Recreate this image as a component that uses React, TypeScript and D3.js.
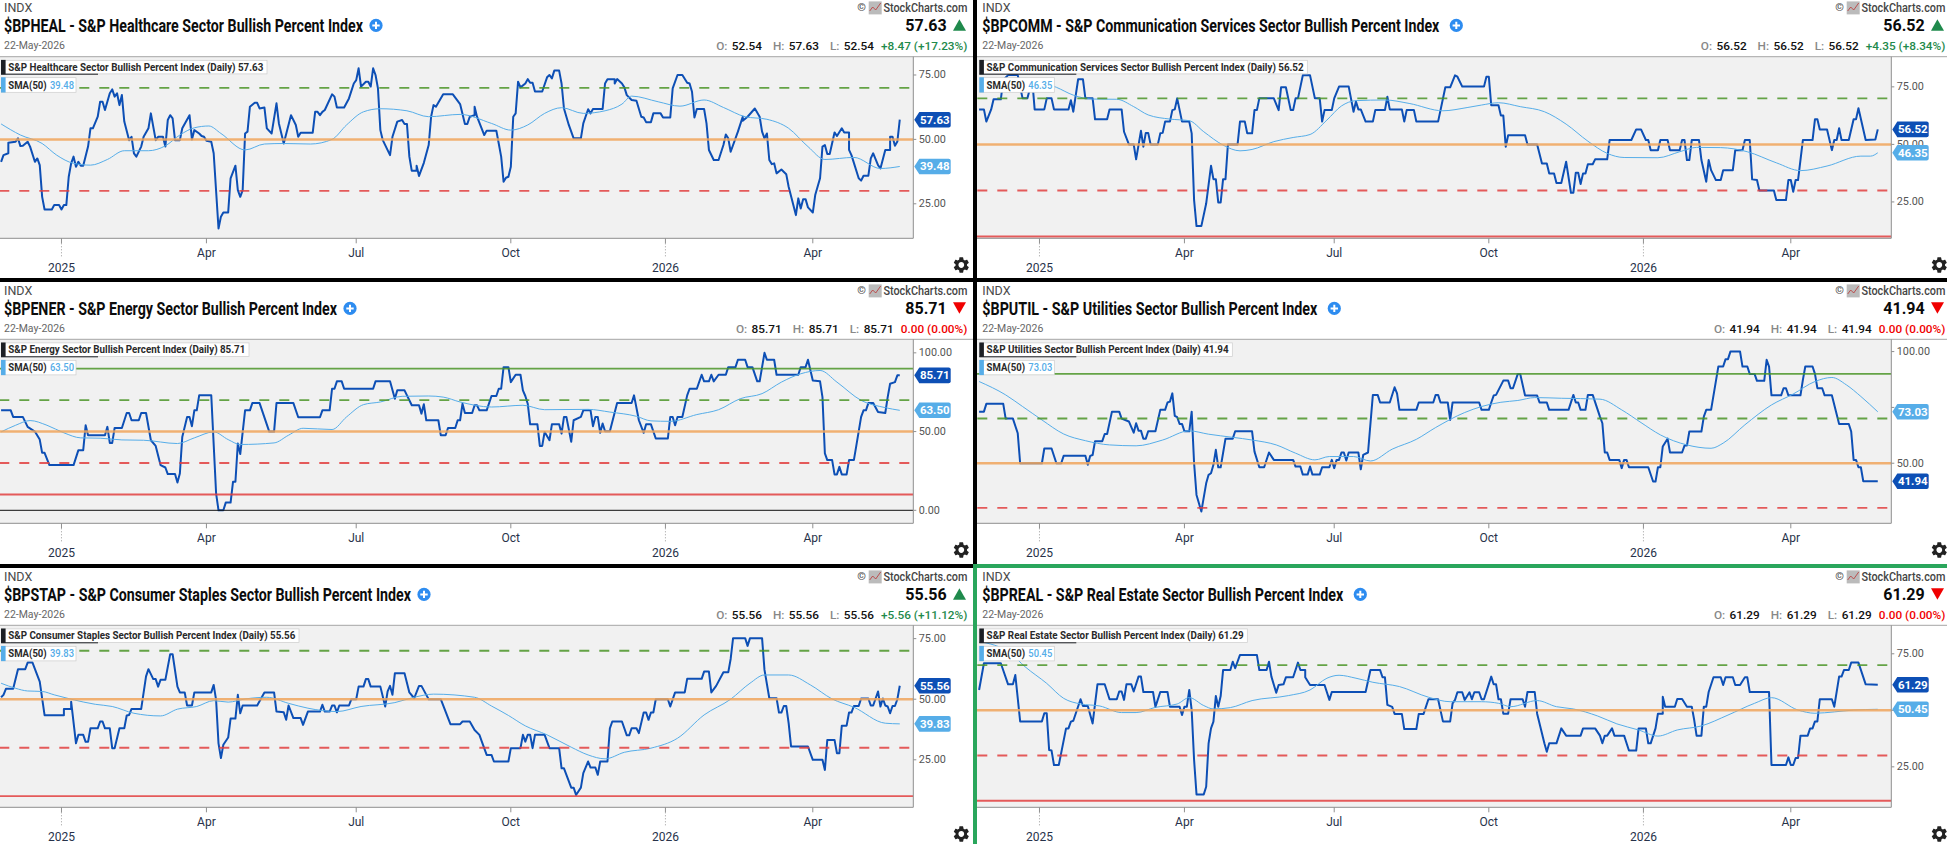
import React from 'react';
import * as d3 from 'd3';

type Pt = [number, number];

// x values are trading sessions counted from the left edge of each plot
const tickSessions = [25, 85, 147, 211, 275, 336];
const tickLabels = ['2025', 'Apr', 'Jul', 'Oct', '2026', 'Apr'];
const yearTicks = ['2025', '2026'];

const healBpi: Pt[] = [[0,41.3],[1,43.9],[3,44.6],[3,48.7],[6,49.1],[7,50.4],[8,47.4],[9,47.5],[11,49.1],[12,47.2],[14,41.3],[15,42.6],[16,40],[17,27.7],[18,22.8],[21,22.8],[22,24.5],[24,24.5],[25,22.8],[26,24.5],[27,24.5],[28,35.5],[29,40.7],[30,43.3],[31,39.4],[32,41.3],[33,39.8],[34,39.8],[36,47.2],[37,54.3],[38,54.3],[40,58.8],[41,64.6],[42,64.6],[43,61.4],[45,67.9],[46,69.4],[47,66.6],[48,67.9],[49,63.3],[50,67.2],[51,56.9],[53,49.7],[54,51],[55,44.6],[56,43.3],[58,47.2],[59,51],[61,54.3],[62,60.1],[64,49.7],[65,51],[67,51],[68,47.2],[69,57.5],[70,59.4],[71,58.2],[72,49.7],[74,49.7],[75,54.3],[78,59.4],[79,50],[80,53.6],[82,52.3],[83,51.3],[84,51],[85,49.5],[87,49.1],[88,44.6],[90,15.4],[91,20],[92,21.6],[94,21.6],[95,34.9],[97,39.8],[98,30.3],[99,27.7],[100,30.3],[101,52.3],[102,53],[103,62.7],[105,64.2],[106,64.2],[107,62],[109,62.4],[110,54.3],[112,52.3],[114,64],[115,56.2],[117,48.4],[120,59.4],[122,55.6],[123,51],[124,52.6],[129,52.6],[130,60.7],[131,60.7],[132,59.4],[133,60.7],[134,61.4],[137,67.5],[138,66.6],[139,62.4],[142,62.4],[144,65.9],[146,71.7],[147,73],[148,77.6],[149,70.5],[151,72.4],[152,72.4],[153,70.5],[154,77.6],[155,75],[156,69.8],[157,53.6],[158,49.7],[161,43.9],[162,51],[164,56.9],[166,57.5],[167,56],[168,56],[169,43.3],[170,37.8],[172,37.8],[172,39.8],[173,35.8],[175,40.9],[177,47.8],[178,58.8],[179,63.3],[180,62.7],[183,67.5],[187,67.5],[190,63.7],[192,56],[193,56],[194,58.8],[196,59.4],[196,62.7],[197,58.8],[200,51.7],[201,53.4],[205,53.4],[206,48.4],[207,43.3],[208,33.6],[209,35.1],[210,35.5],[211,39.4],[212,58.8],[213,60.1],[214,72.4],[215,70.2],[217,71.7],[218,73.4],[219,72],[220,72],[221,68.6],[224,68.6],[226,74.1],[227,75],[228,73.7],[229,76.7],[231,76.7],[232,71.7],[233,62],[235,55.6],[237,50.4],[240,50.4],[241,56.2],[243,61.7],[244,60.1],[245,61.8],[249,61.8],[250,71.7],[251,73.3],[254,73.3],[254,71.7],[255,73.4],[257,71.7],[258,70.2],[259,67.2],[261,65.3],[263,65],[265,58.8],[266,58.5],[267,56.7],[269,56.7],[270,60.1],[273,60.1],[274,58.5],[277,58.5],[278,69.8],[280,75],[282,75],[284,72],[285,71.7],[286,68.5],[287,58.5],[288,61.8],[291,61.8],[292,56.2],[293,45.9],[295,42],[297,42],[299,47.8],[300,51.9],[301,50.4],[302,45.2],[305,53],[307,58.8],[307,57.2],[309,58.8],[312,62],[314,58.8],[315,53],[316,50.4],[317,52.3],[318,42],[319,40.4],[320,40.7],[321,36.8],[323,38.3],[325,36.5],[326,31.6],[329,20.6],[330,27.1],[331,23.2],[332,26.8],[333,26.8],[334,23.6],[336,21.6],[337,28.4],[339,34.9],[340,47.2],[341,47.8],[342,44.3],[343,44.3],[345,52.7],[346,51.3],[348,54.3],[349,52.7],[351,52.7],[351,45.9],[352,43.9],[355,34.9],[356,34],[357,35.9],[359,35.9],[360,42.6],[361,44.6],[363,40],[364,38.7],[366,45.9],[368,45.9],[368,51],[369,51],[370,47.5],[371,49.16],[372,57.63]];
const healSma: Pt[] = [[0,56],[8,51.7],[17,48.4],[23,43.9],[30,40.7],[37,40],[44,42.2],[51,45.6],[61,45.6],[68,47.5],[74,51.7],[80,54.5],[86,55.2],[91,52.3],[101,45.9],[109,48.2],[117,48.4],[128,48.2],[137,50],[143,55.6],[150,60.7],[157,61.9],[168,61.1],[177,58.8],[190,59.7],[203,56.2],[211,53.6],[218,55.6],[225,60.1],[232,62.3],[241,60.1],[250,61.1],[257,63.7],[261,66.8],[272,64.6],[281,62.9],[291,65.3],[299,62.4],[308,58.8],[317,57.8],[326,54.3],[334,47.2],[341,42.2],[353,43],[364,38.7],[372,39.48]];

const commBpi: Pt[] = [[0,65.2],[2,65.2],[3,59.9],[5,65.2],[6,69.6],[9,69.6],[10,78],[12,80.1],[16,80.1],[18,70],[20,70],[22,78],[23,65.2],[27,65.2],[28,70],[30,70],[31,65.2],[37,65.2],[38,69.2],[39,64.2],[41,78.3],[43,78.3],[44,70],[47,70],[48,60.9],[53,60.9],[54,65.2],[59,65.2],[60,55.5],[62,50],[64,50],[65,43.5],[67,55.9],[68,49],[69,55],[70,55],[71,50],[74,50],[75,54.8],[76,55],[77,59.9],[79,59.9],[80,64.9],[81,65.2],[82,70],[84,59.9],[87,59.9],[88,54.8],[89,25.8],[90,14.5],[92,14.5],[94,24.3],[96,40.7],[97,34.9],[98,34.9],[99,24.8],[100,24.8],[101,34.9],[102,34.9],[103,50],[107,50],[108,59.9],[110,59.9],[111,54.8],[113,54.8],[114,64.9],[115,64.9],[116,70],[122,70],[124,64.9],[125,74.8],[127,74.8],[129,64.9],[130,64.9],[131,70],[132,70],[134,80],[137,80],[139,70],[141,70],[142,59.9],[143,64.9],[146,64.9],[147,70],[149,75.1],[153,75.1],[155,64.2],[156,68.6],[157,65.2],[158,65.2],[160,59.9],[163,59.9],[164,64.9],[168,64.9],[169,70.7],[170,65.2],[175,65.2],[176,59.9],[177,64.9],[180,64.9],[181,59.9],[190,59.9],[193,74.8],[195,74.8],[197,80],[198,79.4],[200,75.1],[209,75.1],[210,79.4],[211,79.4],[212,67],[215,67],[216,62.5],[217,62.5],[218,49],[219,54],[226,54],[227,50],[231,50],[233,41.7],[235,41.7],[236,37.4],[238,37.4],[239,33.2],[241,33.2],[243,42.5],[245,29],[246,29],[247,37.7],[248,37.7],[249,32.8],[250,37.4],[251,37.4],[252,41.4],[254,41.4],[255,43.5],[260,43.5],[261,51.9],[270,51.9],[272,56.5],[274,56.5],[276,51.9],[277,51.9],[278,47.5],[281,47.5],[282,51.9],[285,51.9],[286,47.5],[290,47.5],[291,51.9],[292,51.9],[293,43.2],[294,43.2],[295,51.9],[298,51.9],[299,43.2],[301,33.8],[302,43.2],[303,38.8],[305,34.5],[307,34.5],[308,38.8],[312,38.8],[313,47.5],[316,47.5],[317,51.9],[319,51.9],[320,34.8],[322,34.5],[323,30],[329,30],[330,25.8],[334,25.8],[335,34.5],[336,34.5],[337,29.4],[338,34.5],[339,34.5],[341,51.9],[345,51.9],[346,60.9],[347,60.9],[348,56.5],[351,56.5],[353,47.5],[354,51.9],[355,51.9],[356,57],[357,51.9],[360,51.9],[362,60.9],[363,60.9],[364,65.7],[367,51.9],[371,52.17],[372,56.52]];
const commSma: Pt[] = [[19,78.7],[32,74.8],[39,71.4],[47,69.7],[57,69.6],[64,66.4],[70,62.8],[79,61],[87,60.3],[93,55.5],[101,49.7],[108,47.2],[113,47.8],[122,51.2],[130,53],[137,54.3],[144,60.6],[150,66.7],[156,69],[168,69.3],[178,67.8],[192,64.6],[202,66],[208,67.1],[215,68.1],[224,66.4],[234,64.2],[243,58.8],[252,51.4],[260,46.1],[267,44.3],[281,44.2],[290,46.8],[297,48.7],[307,48.6],[318,46.8],[330,42],[340,38.6],[351,40.6],[365,44.9],[369,44.9],[372,46.35]];

const enerBpi: Pt[] = [[0,63.5],[4,63.5],[5,59.3],[9,59.3],[11,53],[14,50],[16,44.9],[17,36.5],[18,36.5],[20,28.7],[30,28.7],[32,38.2],[34,38.2],[35,54],[36,47.7],[43,47.7],[44,53],[45,42.8],[46,42.8],[47,52.3],[50,52.3],[52,61.8],[53,61.8],[54,57.2],[57,57.2],[58,61.8],[60,61.8],[62,44.5],[64,40.9],[66,28.7],[68,27.2],[69,23],[72,23],[73,17.7],[74,23.4],[75,46.6],[77,59.3],[78,59.3],[79,53.4],[80,63.5],[81,63.5],[82,73],[87,73],[89,10.8],[90,0],[92,0],[93,4.9],[95,4.9],[96,18.1],[97,18.1],[98,42.4],[99,35.7],[101,63.5],[103,63.5],[104,68.1],[107,68.1],[111,50],[113,50],[114,68.1],[121,68.1],[123,59.1],[132,59.1],[133,63.5],[136,63.5],[137,77.2],[138,77.2],[139,81.9],[141,81.9],[142,77.2],[154,77.2],[155,81.9],[161,81.9],[163,70.9],[164,76.2],[167,76.2],[170,66.7],[173,66.7],[174,61.4],[175,67.3],[176,57.2],[181,57.2],[182,47.7],[184,47.7],[185,52.3],[188,52.3],[189,57.2],[190,57.2],[191,67.7],[192,61.8],[195,61.8],[196,66.7],[197,66.7],[198,63.5],[201,63.5],[203,72.6],[205,72.6],[206,77.2],[207,77.2],[208,90.9],[210,90.9],[211,81.4],[213,86.1],[215,86.1],[216,76.2],[217,72.6],[218,67.7],[219,54.6],[222,54.6],[223,40.9],[224,40.9],[225,49.8],[227,44.5],[228,54.6],[231,54.6],[232,48.7],[233,59.3],[234,59.3],[236,43.5],[237,57.2],[240,59.3],[241,63.5],[244,63.5],[245,53.4],[246,59.3],[247,59.3],[248,49.2],[249,55.1],[250,50.2],[252,50.2],[255,68.1],[261,68.1],[262,73],[264,57.2],[266,49.2],[267,54.6],[269,54.6],[271,45.6],[276,45.6],[277,59.3],[278,59.3],[279,54],[280,59.3],[282,59.3],[284,73],[285,77.2],[288,77.2],[290,86.1],[291,81.9],[293,81.9],[294,86.1],[295,81.9],[297,86.1],[300,86.1],[301,90.9],[304,90.9],[305,95.6],[308,95.6],[309,90.9],[311,90.9],[313,81.9],[314,81.9],[316,100],[317,95.6],[320,95.6],[321,86.1],[330,86.1],[331,90.9],[333,90.9],[334,95.6],[336,82.5],[339,81.9],[340,71.9],[341,36.1],[342,31.9],[344,31.9],[345,22.8],[346,22.8],[347,27.6],[348,22.8],[350,22.8],[351,31.9],[353,31.9],[354,40.9],[356,59.3],[357,63.5],[358,63.5],[359,68.1],[361,68.1],[363,62.4],[366,61.8],[367,71.9],[368,80.4],[370,81.4],[371,85.71],[372,85.71]];
const enerSma: Pt[] = [[0,49.8],[6,54],[12,57],[19,54],[26,49.2],[33,46],[41,45.8],[50,44.7],[59,44.5],[73,42.4],[80,46],[88,49.8],[94,44.9],[99,41.8],[113,42.8],[119,47.7],[125,52.1],[137,51.3],[143,59.3],[150,67.1],[157,68.8],[166,72.4],[177,72.6],[183,71.9],[190,68.8],[203,65.6],[216,66.7],[225,63.9],[243,64.1],[252,62.4],[263,59.7],[269,56.8],[277,56.5],[288,60.8],[297,63.9],[306,70.9],[315,74.1],[323,81.4],[331,86.7],[339,88.8],[346,81.4],[356,69.8],[366,65.2],[372,63.5]];

const utilBpi: Pt[] = [[0,73.1],[2,73.1],[3,76.6],[10,76.6],[11,70],[14,70],[16,63.4],[17,50],[26,50],[27,56.6],[30,56.6],[32,50],[34,50],[35,53.3],[44,53.3],[45,49.3],[46,53.3],[47,53.7],[48,59.9],[51,59.9],[52,63.1],[53,63.1],[55,73.1],[58,73.1],[59,70],[62,68.7],[64,63.7],[65,67.9],[66,64.6],[67,64.6],[68,61],[69,61],[70,64.3],[73,64.3],[75,73.9],[77,73.9],[78,77.2],[79,77.6],[80,81.3],[81,71.2],[82,70.6],[83,67.6],[84,67.6],[85,64.3],[87,64.3],[88,73.1],[89,50],[90,35.8],[92,28.4],[94,41],[95,44.8],[96,45.5],[97,49.3],[98,56],[99,48.2],[100,48.2],[102,61],[105,61],[106,64.3],[113,64.3],[114,55.2],[116,48.2],[118,48.2],[120,54.8],[122,51.5],[130,51.5],[131,48.5],[133,48.5],[134,44.9],[136,44.9],[137,48.5],[138,44.9],[141,44.9],[142,48.2],[145,48.2],[146,51.5],[147,47.8],[148,51.5],[149,51.5],[150,54.8],[151,54.8],[152,51.2],[153,54.8],[157,54.8],[158,47.3],[159,53.7],[161,54.8],[163,80.6],[165,80.6],[166,77.2],[170,77.2],[172,84],[173,81.3],[174,73.9],[181,73.9],[182,77.2],[188,77.2],[189,80.6],[190,80.6],[191,77.2],[194,77.2],[195,69.4],[196,77.2],[207,77.2],[208,73.9],[211,73.9],[212,77.2],[213,80.3],[214,80.6],[217,87],[219,87],[220,83.6],[221,83.6],[223,90],[224,90],[226,80.3],[231,80.3],[232,77.2],[235,77.2],[236,73.9],[244,73.9],[246,80.6],[247,77.2],[248,77.2],[249,73.9],[251,73.9],[252,80.6],[254,80.6],[257,70.9],[258,67.9],[259,54.8],[260,54.8],[261,51.5],[265,51.5],[266,47.8],[267,51.5],[268,51.5],[269,48.2],[277,48.2],[279,41.8],[280,41.8],[281,48.2],[282,48.2],[283,57.5],[285,61],[286,54.8],[291,54.8],[292,57.9],[293,57.9],[294,64.2],[299,64.2],[300,70.9],[301,73.9],[303,73.9],[306,93.3],[308,93.3],[309,96.6],[310,96.6],[311,100],[315,100],[316,93.3],[318,93.3],[319,90],[321,90],[322,86.9],[325,86.9],[326,96.3],[327,93.3],[328,80.4],[332,80.4],[333,83.6],[334,83.6],[335,80.4],[340,80.4],[341,87.3],[342,93.3],[345,93.3],[346,90],[347,83.6],[349,83.6],[350,80.4],[353,80.4],[356,67.6],[360,67.6],[361,64.2],[362,51.5],[363,51.5],[364,48.2],[365,48.2],[366,41.94],[372,41.94]];
const utilSma: Pt[] = [[0,86.6],[11,80.6],[18,75.4],[26,69.4],[35,63.1],[44,60.1],[54,58.2],[65,57.8],[76,60.4],[87,64.5],[95,63],[105,61.6],[113,60.4],[123,58.2],[131,54.5],[139,51.5],[145,53],[155,53],[162,51],[171,56.3],[181,60.7],[189,66],[201,72.7],[208,75.4],[216,77.3],[223,78.1],[230,79.4],[241,79.1],[257,78.7],[266,73.9],[274,68.2],[282,62.7],[293,58.2],[303,56.7],[308,59],[317,67.2],[328,76.1],[337,81],[346,86.6],[353,88.4],[359,85.1],[365,79.9],[372,73.03]];

const stapBpi: Pt[] = [[0,50.8],[1,51.8],[2,54.3],[5,54.3],[7,62.4],[10,62.4],[11,65.1],[13,65.1],[16,57.3],[18,43.4],[26,43.4],[26,46],[29,46],[29,49],[31,31.8],[32,35.3],[34,35.3],[35,32.4],[36,32.4],[37,38],[40,38],[41,40.8],[42,40.8],[43,38],[45,38],[46,29.8],[47,29.8],[49,38],[51,38],[52,43.3],[53,43.5],[54,46],[58,46],[60,59.4],[61,62.4],[63,58.3],[64,58.3],[65,55.2],[66,58],[68,58],[70,68.6],[71,68.6],[73,55.2],[74,52.8],[76,52.8],[77,47.4],[79,47.4],[80,52.8],[87,52.8],[88,55.9],[89,49.7],[90,31.8],[91,25.7],[92,31.2],[94,34.2],[95,42],[97,42],[98,51.8],[99,44.2],[100,47.4],[106,47.4],[109,52.8],[113,52.8],[114,44.9],[117,44.6],[118,41.5],[119,47.4],[121,42.2],[124,42.2],[125,39.4],[127,44.9],[132,44.9],[133,47.7],[134,44.9],[136,44.9],[137,47.4],[138,47.4],[139,44.6],[140,47.4],[144,47.4],[145,50],[147,50],[148,55.2],[150,55.2],[151,58.3],[152,58.3],[153,55.2],[157,55.2],[159,47],[160,53.2],[161,55.5],[162,51.8],[163,60.7],[167,60.7],[169,52.8],[171,50.4],[173,55.5],[174,55.5],[176,51.8],[177,50],[182,50],[186,39.7],[190,39.7],[191,40.8],[194,40.8],[196,37.3],[198,35.3],[199,32.5],[201,27],[203,27],[204,24.3],[210,24.3],[211,29.8],[215,29.8],[216,35.3],[217,32.5],[218,35.3],[219,35.3],[220,29.8],[221,35.3],[225,35.3],[227,29.8],[231,29.8],[232,21.5],[233,21.5],[236,13.5],[237,13.5],[238,10.5],[240,13.5],[241,19.5],[243,24.3],[244,21.8],[246,21.8],[247,18.8],[248,24.3],[251,24.3],[252,38],[253,40.8],[257,40.8],[259,35.1],[260,35.1],[261,38],[263,38],[264,36],[266,44.5],[267,44.5],[268,41.5],[269,44.5],[270,44.5],[271,50],[276,50],[277,47],[279,52.8],[283,52.8],[284,58.4],[290,58.4],[291,61.4],[293,61.4],[294,52.8],[296,55.5],[299,61.1],[301,61.1],[302,66.6],[303,75.2],[308,75.2],[309,72],[310,75.2],[315,75.2],[316,62.1],[318,50.4],[321,50.4],[322,44.5],[323,44.5],[324,47.2],[325,47.2],[326,40.1],[327,30.5],[334,30.5],[336,25],[340,25],[341,20.8],[342,33.2],[345,33.2],[346,27.7],[347,27.7],[348,39.1],[350,39.1],[351,44.5],[352,44.5],[353,47.2],[355,47.2],[356,50.3],[359,50.3],[360,47.4],[361,47.4],[363,53.2],[364,47],[365,50.3],[366,47.4],[367,47],[368,44.2],[369,47.2],[370,47.2],[371,50],[372,55.56]];
const stapSma: Pt[] = [[0,56.6],[6,54.5],[11,53.4],[17,53.2],[22,51.8],[29,50],[39,47.9],[46,47],[55,44.2],[66,43.1],[73,45.9],[81,47],[88,49.4],[94,48.8],[101,50.1],[110,50.8],[119,48.3],[127,46.3],[139,44.9],[149,47],[163,48.6],[171,50.8],[179,52.1],[196,50.8],[203,47.2],[210,43.3],[217,39],[226,35.3],[236,30.2],[243,27],[250,25.4],[258,28.1],[269,29.8],[280,33.9],[291,43.5],[302,50],[310,56.6],[316,60],[326,60],[335,55.9],[344,50.1],[353,46.7],[366,40.1],[372,39.83]];

const realBpi: Pt[] = [[0,59],[2,70.8],[9,70.8],[12,61.5],[14,61.5],[15,65.6],[17,45.1],[26,45.1],[27,48.7],[28,48.7],[29,32.4],[30,32.2],[31,25.8],[33,25.8],[36,42],[37,42],[38,45],[39,45.4],[42,54.9],[43,51.9],[45,51.9],[47,44.2],[49,61.5],[52,61.5],[54,54.9],[57,54.9],[58,58.3],[59,58.3],[60,54.6],[61,61.5],[63,61.5],[64,58.3],[66,64.9],[67,64.9],[68,58.1],[72,58.1],[73,51.5],[75,58.1],[78,58.1],[79,51.6],[83,51.6],[84,47.9],[85,51.6],[86,51.6],[87,59],[88,50.1],[89,28],[90,12.8],[93,12.8],[94,16.2],[95,35.4],[96,42],[97,45],[98,56.3],[99,51.6],[100,56.3],[101,67.8],[104,67.8],[105,71.5],[106,68.6],[108,74.5],[115,74.5],[116,67.8],[119,67.8],[120,71.5],[121,64.9],[123,57.8],[124,61.2],[126,61.5],[127,64.6],[130,64.6],[132,71.1],[133,67.8],[135,67.8],[135,64.6],[137,61.2],[143,61.2],[145,54.6],[146,58.1],[160,58.1],[162,67.8],[166,67.8],[167,64.6],[168,64.6],[169,52.4],[171,51.5],[172,48.4],[175,48.4],[176,41.7],[181,41.7],[182,48.4],[184,48.4],[186,54.9],[190,54.9],[192,45.1],[195,45.1],[196,53.1],[197,54.6],[198,58],[200,58],[201,54.6],[203,58],[204,54.9],[205,58],[207,58],[208,54.9],[209,54.9],[212,64.9],[213,61.5],[214,61.5],[215,54.9],[216,54.9],[217,48.5],[219,48.5],[220,54.9],[225,54.9],[226,51.6],[227,58.1],[230,58.1],[231,48.5],[234,35.4],[235,31.7],[236,35.4],[239,35.4],[241,42],[243,38.8],[249,38.8],[250,42],[255,42],[257,38.8],[258,35.4],[259,38.8],[260,38.8],[262,42],[263,38.8],[267,38.8],[269,32.2],[272,32.2],[273,42],[276,42],[277,35.4],[278,35.4],[280,42],[281,48.5],[283,48.5],[283,56],[284,51.6],[288,51.6],[289,55],[291,55],[293,51.6],[295,51.6],[296,45.8],[297,38.8],[299,38.8],[300,51.6],[301,51.6],[302,58.1],[304,64.6],[307,64.6],[308,61.2],[309,64.6],[312,64.6],[313,61.2],[315,61.2],[317,64.6],[318,64.6],[319,58.1],[327,58.1],[328,25.8],[334,25.8],[335,29.2],[336,25.8],[337,25.8],[338,28.9],[339,28.9],[340,38.8],[343,38.8],[344,42],[345,42],[346,45.1],[347,45.1],[348,54.9],[353,54.9],[354,51.6],[356,64.9],[357,64.9],[358,67.8],[360,67.8],[361,71.1],[364,71.1],[367,61.5],[372,61.29]];
const realSma: Pt[] = [[0,80.4],[13,75.2],[19,69.3],[28,61.9],[35,55.3],[42,52.8],[50,51.9],[59,49],[65,49],[73,51.3],[82,52.8],[87,55.6],[93,52.1],[97,50.6],[104,51.2],[113,54.3],[128,56.5],[137,59],[144,64.2],[149,65.5],[156,64.2],[163,62.4],[174,60.5],[186,55.8],[195,53.8],[202,53.8],[208,53.8],[215,53.1],[220,51.6],[231,54.3],[239,51.6],[246,50.6],[256,47.5],[264,44],[273,41.3],[281,38.6],[289,41.3],[299,43.1],[310,47.9],[321,53.1],[328,55.6],[339,50.1],[346,48.7],[354,49.3],[362,50.1],[372,50.45]];

const blue = '#0d4fb5';
const skyBlue = '#56ade8';
const green = '#4b9528';
const red = '#e2403f';
const orange = '#f0a45c';
const gainColor = '#1f8a4c';
const lossColor = '#f00000';

const gearPath = 'M19.14 12.94c.04-.3.06-.61.06-.94 0-.32-.02-.64-.07-.94l2.03-1.58a.49.49 0 0 0 .12-.61l-1.92-3.32a.488.488 0 0 0-.59-.22l-2.39.96c-.5-.38-1.03-.7-1.62-.94l-.36-2.54a.484.484 0 0 0-.48-.41h-3.84c-.24 0-.43.17-.47.41l-.36 2.54c-.59.24-1.13.57-1.62.94l-2.39-.96c-.22-.08-.47 0-.59.22L2.74 8.87c-.12.21-.08.47.12.61l2.03 1.58c-.05.3-.09.63-.09.94s.02.64.07.94l-2.03 1.58a.49.49 0 0 0-.12.61l1.92 3.32c.12.22.37.29.59.22l2.39-.96c.5.38 1.03.7 1.62.94l.36 2.54c.05.24.24.41.48.41h3.84c.24 0 .44-.17.47-.41l.36-2.54c.59-.24 1.13-.56 1.62-.94l2.39.96c.22.08.47 0 .59-.22l1.92-3.32c.12-.22.07-.47-.12-.61l-2.01-1.58zM12 15.6c-1.98 0-3.6-1.62-3.6-3.6s1.62-3.6 3.6-3.6 3.6 1.62 3.6 3.6-1.62 3.6-3.6 3.6z';

interface Level { value: number; color: string; dashed?: boolean; width?: number }

interface PanelConfig {
  id: string;
  symbol: string;
  name: string;
  col: number;
  row: number;
  domain: [number, number];
  yTicks: number[];
  levels: Level[];
  bpi: Pt[];
  sma: Pt[];
  ohlc: string[];
  change: string;
  up: boolean;
  last: number;
  smaLast: number;
  titleWidth: number;
  legendWidth: number;
}

const base: Level[] = [
  { value: 70, color: green, dashed: true },
  { value: 50, color: orange, width: 2.5 },
  { value: 30, color: red, dashed: true },
];
const hi90: Level = { value: 90, color: green };
const lo10: Level = { value: 10, color: red };

const panels: PanelConfig[] = [
  { id: 'heal', symbol: '$BPHEAL', name: 'S&P Healthcare Sector Bullish Percent Index', col: 0, row: 0, domain: [11.6, 82.1], yTicks: [25, 50, 75], levels: base, bpi: healBpi, sma: healSma, ohlc: ['52.54', '57.63', '52.54'], change: '+8.47 (+17.23%)', up: true, last: 57.63, smaLast: 39.48, titleWidth: 359, legendWidth: 255 },
  { id: 'comm', symbol: '$BPCOMM', name: 'S&P Communication Services Sector Bullish Percent Index', col: 1, row: 0, domain: [9.2, 88.1], yTicks: [25, 50, 75], levels: [...base, lo10], bpi: commBpi, sma: commSma, ohlc: ['56.52', '56.52', '56.52'], change: '+4.35 (+8.34%)', up: true, last: 56.52, smaLast: 46.35, titleWidth: 457, legendWidth: 317 },
  { id: 'ener', symbol: '$BPENER', name: 'S&P Energy Sector Bullish Percent Index', col: 0, row: 1, domain: [-8.25, 108.6], yTicks: [0, 50, 100], levels: [hi90, ...base, lo10, { value: 0, color: '#111', width: 1 }], bpi: enerBpi, sma: enerSma, ohlc: ['85.71', '85.71', '85.71'], change: '0.00 (0.00%)', up: false, last: 85.71, smaLast: 63.5, titleWidth: 333, legendWidth: 237 },
  { id: 'util', symbol: '$BPUTIL', name: 'S&P Utilities Sector Bullish Percent Index', col: 1, row: 1, domain: [23.1, 105.5], yTicks: [50, 75, 100], levels: [hi90, ...base], bpi: utilBpi, sma: utilSma, ohlc: ['41.94', '41.94', '41.94'], change: '0.00 (0.00%)', up: false, last: 41.94, smaLast: 73.03, titleWidth: 335, legendWidth: 242 },
  { id: 'stap', symbol: '$BPSTAP', name: 'S&P Consumer Staples Sector Bullish Percent Index', col: 0, row: 2, domain: [5.4, 80.5], yTicks: [25, 50, 75], levels: [...base, lo10], bpi: stapBpi, sma: stapSma, ohlc: ['55.56', '55.56', '55.56'], change: '+5.56 (+11.12%)', up: true, last: 55.56, smaLast: 39.83, titleWidth: 407, legendWidth: 287 },
  { id: 'real', symbol: '$BPREAL', name: 'S&P Real Estate Sector Bullish Percent Index', col: 1, row: 2, domain: [7.1, 87.6], yTicks: [25, 50, 75], levels: [...base, lo10], bpi: realBpi, sma: realSma, ohlc: ['61.29', '61.29', '61.29'], change: '0.00 (0.00%)', up: false, last: 61.29, smaLast: 50.45, titleWidth: 361, legendWidth: 257 },
];

const rows = [
  { top: -1, plotTop: 56.7, plotBottom: 238.3 },
  { top: 282, plotTop: 339.3, plotBottom: 523.3 },
  { top: 568, plotTop: 625.3, plotBottom: 807.3 },
];
const colOffset = 978;
const plotRight = 913.3;
const headerRight = 967.4;

const xScale = d3.scaleLinear().domain([-0.45, 377.6]).range([0, plotRight]);

const Tag: React.FC<{ y: number; fill: string; text: string }> = ({ y, fill, text }) => {
  const left = plotRight + 1;
  const notch = left + 5;
  const right = plotRight + 37.4;
  const h = 7.8;
  const d = `M${left},${y}L${notch},${y - h}H${right - 2}Q${right},${y - h} ${right},${y - h + 2}V${y + h - 2}Q${right},${y + h} ${right - 2},${y + h}H${notch}Z`;
  return (
    <g>
      <path d={d} fill={fill} />
      <text x={notch + 15.5} y={y} textAnchor="middle" dominantBaseline="central" fill="#fff" fontSize={11.5} fontWeight={700}>{text}</text>
    </g>
  );
};

const Panel: React.FC<{ p: PanelConfig }> = ({ p }) => {
  const { top, plotTop, plotBottom } = rows[p.row];
  const yScale = d3.scaleLinear().domain(p.domain).range([plotBottom, plotTop]);
  const bpiLine = d3.line<Pt>().x(d => xScale(d[0])).y(d => yScale(d[1]));
  const smaLine = d3.line<Pt>().x(d => xScale(d[0])).y(d => yScale(d[1])).curve(d3.curveMonotoneX);
  const left = p.col === 0 ? 0 : -1;
  const clipId = `clip-${p.id}`;
  const titleEnd = 4 + p.col * 4.3 + p.titleWidth;
  const textLeft = p.col === 0 ? 4 : 4.3;
  const barColor = '#1c1f24';
  // a tick label sitting fully under a value tag is not drawn
  const coveredBy = (t: number) => Math.abs(yScale(t) - yScale(p.smaLast)) < 7 || Math.abs(yScale(t) - yScale(p.last)) < 7;

  return (
    <g transform={`translate(${p.col * colOffset},0)`}>
      <defs>
        <clipPath id={clipId}>
          <rect x={left} y={plotTop} width={plotRight - left} height={plotBottom - plotTop} />
        </clipPath>
      </defs>

      {/* header */}
      <text x={textLeft} y={top + 8.7} dominantBaseline="central" fontSize={12.5} fill="#4a4a4a">INDX</text>
      <text x={textLeft} y={top + 27} dominantBaseline="central" fontSize={17.5} fontWeight={700} fill="#0c0c0c" textLength={p.titleWidth} lengthAdjust="spacingAndGlyphs">{`${p.symbol} - ${p.name}`}</text>
      <circle cx={titleEnd + 13} cy={top + 26.4} r={6.6} fill="#2d8cf0" />
      <path d={`M${titleEnd + 9.3},${top + 26.4}H${titleEnd + 16.7}M${titleEnd + 13},${top + 22.7}V${top + 30.1}`} stroke="#fff" strokeWidth={2} />
      <text x={textLeft} y={top + 46.6} dominantBaseline="central" fontSize={10.5} fill="#666">22-May-2026</text>

      <text x={headerRight - 84} y={top + 8.7} dominantBaseline="central" fontSize={12} fontWeight={500} fill="#444" textLength={84} lengthAdjust="spacingAndGlyphs">StockCharts.com</text>
      <rect x={plotRight - 44.6} y={top + 2.4} width={13} height={13} fill="#bbb" />
      <path d={`M${plotRight - 43.6},${top + 12}l3,-4l3,3l5,-7`} fill="none" stroke="#b33" strokeWidth={0.8} />
      <text x={plotRight - 47.5} y={top + 8.7} textAnchor="end" dominantBaseline="central" fontSize={11} fontWeight={500} fill="#444">©</text>

      <text x={plotRight + 33.4} y={top + 26} textAnchor="end" dominantBaseline="central" fontSize={16} fontWeight={700} fill="#0a0a0a">{p.last.toFixed(2)}</text>
      <path
        d={p.up
          ? `M${plotRight + 39.7},${top + 31.7}L${plotRight + 46.1},${top + 20.3}L${plotRight + 52.7},${top + 31.7}Z`
          : `M${plotRight + 39.7},${top + 20.3}L${plotRight + 46.1},${top + 31.7}L${plotRight + 52.7},${top + 20.3}Z`}
        fill={p.up ? gainColor : lossColor}
      />
      <text x={headerRight} y={top + 46.6} textAnchor="end" dominantBaseline="central" fontSize={11.8} fontWeight={500}>
        <tspan fill="#888">O: </tspan><tspan fill="#111" dx={1.5}>{p.ohlc[0]}</tspan>
        <tspan fill="#888" dx={11}>H: </tspan><tspan fill="#111" dx={1.5}>{p.ohlc[1]}</tspan>
        <tspan fill="#888" dx={11}>L: </tspan><tspan fill="#111" dx={1.5}>{p.ohlc[2]}</tspan>
        <tspan fill={p.up ? gainColor : lossColor} dx={7}>{p.change}</tspan>
      </text>

      {/* plot area */}
      <rect x={left} y={plotTop} width={plotRight - left} height={plotBottom - plotTop} fill="#f1f1f1" />
      <g clipPath={`url(#${clipId})`}>
        <path d={bpiLine(p.bpi) || ''} fill="none" stroke={blue} strokeWidth={2} strokeLinejoin="round" />
        <path d={smaLine(p.sma) || ''} fill="none" stroke={skyBlue} strokeWidth={1} />
        {p.levels.map(l => (
          <line
            key={l.value}
            x1={l.dashed ? -0.7 : left}
            x2={l.dashed ? 909.3 : plotRight}
            y1={yScale(l.value)}
            y2={yScale(l.value)}
            stroke={l.color}
            strokeOpacity={l.color === '#111' ? 1 : 0.85}
            strokeWidth={l.width ?? 1.9}
            strokeDasharray={l.dashed ? '10 10' : undefined}
          />
        ))}
      </g>
      <line x1={left} x2={headerRight + 6} y1={plotTop} y2={plotTop} stroke="#a5a5a5" strokeWidth={1} />
      <line x1={left} x2={plotRight} y1={plotBottom} y2={plotBottom} stroke="#8f8f8f" strokeWidth={1} />
      <line x1={plotRight} x2={plotRight} y1={plotTop} y2={plotBottom} stroke="#8f8f8f" strokeWidth={1} />

      {/* y axis */}
      {p.yTicks.map(t => (
        <g key={t}>
          <line x1={plotRight} x2={plotRight + 3} y1={yScale(t)} y2={yScale(t)} stroke="#8f8f8f" />
          {!coveredBy(t) && <text x={plotRight + 5.5} y={yScale(t)} dominantBaseline="central" fontSize={10.8} fill="#555">{t.toFixed(2)}</text>}
        </g>
      ))}
      <Tag y={yScale(p.smaLast)} fill={skyBlue} text={p.smaLast.toFixed(2)} />
      <Tag y={yScale(p.last)} fill={blue} text={p.last.toFixed(2)} />

      {/* x axis */}
      {tickSessions.map((s, i) => {
        const x = xScale(s);
        const isYear = yearTicks.includes(tickLabels[i]);
        return (
          <g key={i}>
            <line x1={x} x2={x} y1={plotBottom} y2={plotBottom + 5} stroke="#8f8f8f" />
            {isYear && <line x1={x} x2={x} y1={plotBottom + 5} y2={plotBottom + 18} stroke="#999" strokeDasharray="1 2" />}
            <text x={x} y={plotBottom + (isYear ? 29.3 : 14.3)} textAnchor="middle" dominantBaseline="central" fontSize={12} fill="#27324a">{tickLabels[i]}</text>
          </g>
        );
      })}

      <path d={gearPath} transform={`translate(${plotRight + 38.4},${plotBottom + 17.1}) scale(0.8)`} fill="#222" fillRule="evenodd" />

      {/* legend */}
      <rect x={1.5 + p.col * 0.3} y={plotTop + 3.6} width={p.legendWidth + 10.5} height={13.6} fill="#fff" stroke="#ccc" strokeWidth={0.7} />
      <rect x={1 + p.col * 0.3} y={plotTop + 3.2} width={4.6} height={14.4} fill={barColor} />
      <rect x={1 + p.col * 0.3} y={plotTop + 17} width={97} height={1} fill={barColor} />
      <text x={8.3 + p.col * 0.3} y={plotTop + 10.5} dominantBaseline="central" fontSize={11} fontWeight={700} fill="#2a2a2a" textLength={p.legendWidth} lengthAdjust="spacingAndGlyphs">{`${p.name} (Daily) ${p.last.toFixed(2)}`}</text>
      <rect x={1.5 + p.col * 0.3} y={plotTop + 21} width={74.5} height={14.6} fill="#fff" stroke="#ccc" strokeWidth={0.7} />
      <rect x={1 + p.col * 0.3} y={plotTop + 20.6} width={4.6} height={15.2} fill={skyBlue} />
      <text x={8.3 + p.col * 0.3} y={plotTop + 28.4} dominantBaseline="central" fontSize={11} fontWeight={700} fill="#2a2a2a" textLength={38.4} lengthAdjust="spacingAndGlyphs">SMA(50)</text>
      <text x={50 + p.col * 0.3} y={plotTop + 28.4} dominantBaseline="central" fontSize={11} fontWeight={500} fill={skyBlue} textLength={24} lengthAdjust="spacingAndGlyphs">{p.smaLast.toFixed(2)}</text>
    </g>
  );
};

export default function App() {
  return (
    <>
      <style>{'body{margin:0;background:#fff}'}</style>
      <svg width={1947} height={844} style={{ display: 'block', fontFamily: 'Roboto, sans-serif' }}>
        <rect width={1947} height={844} fill="#fff" />
        {panels.map(p => <Panel key={p.id} p={p} />)}
        {/* panel dividers */}
        <rect x={0} y={278} width={1947} height={4} fill="#000" />
        <rect x={0} y={564} width={973} height={4} fill="#000" />
        <rect x={973} y={0} width={4} height={564} fill="#000" />
        <rect x={973} y={564} width={974} height={4} fill="#2aa65c" />
        <rect x={973} y={564} width={4} height={280} fill="#2aa65c" />
      </svg>
    </>
  );
}
